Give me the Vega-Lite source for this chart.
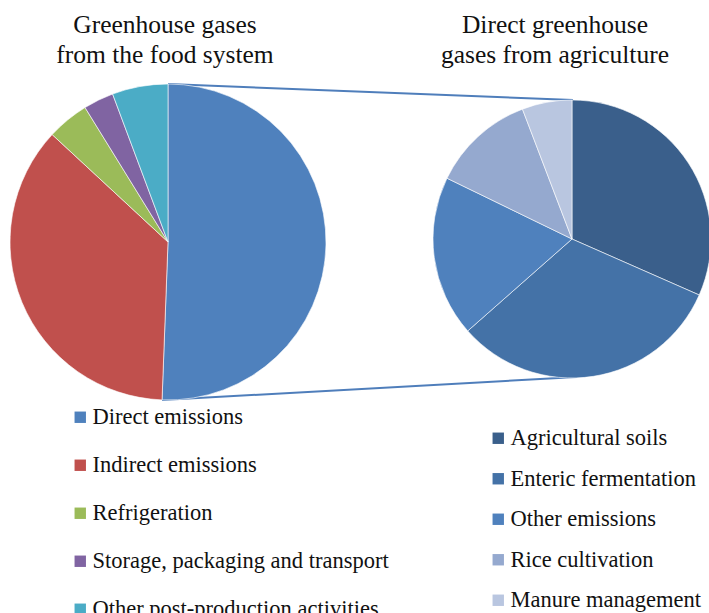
{
  "$schema": "https://vega.github.io/schema/vega-lite/v6.json",
  "width": 709,
  "height": 613,
  "autosize": "none",
  "padding": 0,
  "background": "white",
  "config": {"view": {"stroke": null}},
  "datasets": {
    "food": [
      {"category": "Direct emissions", "share": 50.6, "i": 1},
      {"category": "Indirect emissions", "share": 36.3, "i": 2},
      {"category": "Refrigeration", "share": 4.3, "i": 3},
      {"category": "Storage, packaging and transport", "share": 3.1, "i": 4},
      {"category": "Other post-production activities", "share": 5.7, "i": 5}
    ],
    "agri": [
      {"category": "Agricultural soils", "share": 31.6, "i": 1},
      {"category": "Enteric fermentation", "share": 31.9, "i": 2},
      {"category": "Other emissions", "share": 18.7, "i": 3},
      {"category": "Rice cultivation", "share": 12.0, "i": 4},
      {"category": "Manure management", "share": 5.8, "i": 5}
    ]
  },
  "layer": [
    {
      "data": {"values": [{}]},
      "mark": {"type": "rule", "color": "#4F7EBB", "strokeWidth": 2},
      "encoding": {
        "x": {"datum": 168, "type": "quantitative", "scale": {"domain": [0, 709], "nice": false, "zero": false}, "axis": null},
        "y": {"datum": 84, "type": "quantitative", "scale": {"domain": [0, 613], "nice": false, "zero": false, "reverse": true}, "axis": null},
        "x2": {"datum": 573},
        "y2": {"datum": 100}
      }
    },
    {
      "data": {"values": [{}]},
      "mark": {"type": "rule", "color": "#4F7EBB", "strokeWidth": 2},
      "encoding": {
        "x": {"datum": 162, "type": "quantitative"},
        "y": {"datum": 400, "type": "quantitative"},
        "x2": {"datum": 577},
        "y2": {"datum": 377}
      }
    },
    {
      "data": {"name": "food"},
      "mark": {"type": "arc", "outerRadius": 158, "stroke": "#ffffff", "strokeWidth": 0.6},
      "encoding": {
        "x": {"datum": 168, "type": "quantitative"},
        "y": {"datum": 242, "type": "quantitative"},
        "theta": {"field": "share", "type": "quantitative", "stack": true},
        "order": {"field": "i", "type": "quantitative"},
        "color": {
          "field": "category",
          "type": "nominal",
          "sort": ["Direct emissions", "Indirect emissions", "Refrigeration", "Storage, packaging and transport", "Other post-production activities"],
          "scale": {
            "domain": ["Direct emissions", "Indirect emissions", "Refrigeration", "Storage, packaging and transport", "Other post-production activities"],
            "range": ["#4F81BD", "#C0504D", "#9BBB59", "#8064A2", "#4BACC6"]
          },
          "legend": {
            "title": null,
            "orient": "none",
            "legendX": 69,
            "legendY": 406,
            "padding": 0,
            "symbolType": "square",
            "symbolSize": 130,
            "symbolStrokeWidth": 0,
            "labelFont": "'Liberation Serif', 'DejaVu Serif', serif",
            "labelFontSize": 22.5,
            "labelColor": "#111111",
            "labelOffset": 1,
            "labelLimit": 400,
            "rowPadding": 25
          }
        }
      }
    },
    {
      "data": {"name": "agri"},
      "mark": {"type": "arc", "outerRadius": 139, "stroke": "#ffffff", "strokeWidth": 0.6},
      "encoding": {
        "x": {"datum": 572, "type": "quantitative"},
        "y": {"datum": 239, "type": "quantitative"},
        "theta": {"field": "share", "type": "quantitative", "stack": true},
        "order": {"field": "i", "type": "quantitative"},
        "color": {
          "field": "category",
          "type": "nominal",
          "sort": ["Agricultural soils", "Enteric fermentation", "Other emissions", "Rice cultivation", "Manure management"],
          "scale": {
            "domain": ["Agricultural soils", "Enteric fermentation", "Other emissions", "Rice cultivation", "Manure management"],
            "range": ["#3A5F8B", "#4472A7", "#4F81BD", "#95A9CF", "#B9C6E0"]
          },
          "legend": {
            "title": null,
            "orient": "none",
            "legendX": 487,
            "legendY": 427,
            "padding": 0,
            "symbolType": "square",
            "symbolSize": 130,
            "symbolStrokeWidth": 0,
            "labelFont": "'Liberation Serif', 'DejaVu Serif', serif",
            "labelFontSize": 22.5,
            "labelColor": "#111111",
            "labelOffset": 1,
            "labelLimit": 400,
            "rowPadding": 17.5
          }
        }
      }
    },
    {
      "data": {"values": [{"t": ["Greenhouse gases", "from the food system"]}]},
      "mark": {"type": "text", "font": "'Liberation Serif', 'DejaVu Serif', serif", "fontSize": 25.5, "align": "center", "baseline": "alphabetic", "lineHeight": 30, "color": "#111111"},
      "encoding": {
        "x": {"datum": 165, "type": "quantitative"},
        "y": {"datum": 33, "type": "quantitative"},
        "text": {"field": "t"}
      }
    },
    {
      "data": {"values": [{"t": ["Direct greenhouse", "gases  from agriculture"]}]},
      "mark": {"type": "text", "font": "'Liberation Serif', 'DejaVu Serif', serif", "fontSize": 25.5, "align": "center", "baseline": "alphabetic", "lineHeight": 30, "color": "#111111"},
      "encoding": {
        "x": {"datum": 555, "type": "quantitative"},
        "y": {"datum": 33, "type": "quantitative"},
        "text": {"field": "t"}
      }
    }
  ],
  "resolve": {
    "scale": {"color": "independent", "theta": "independent"},
    "legend": {"color": "independent"}
  }
}
